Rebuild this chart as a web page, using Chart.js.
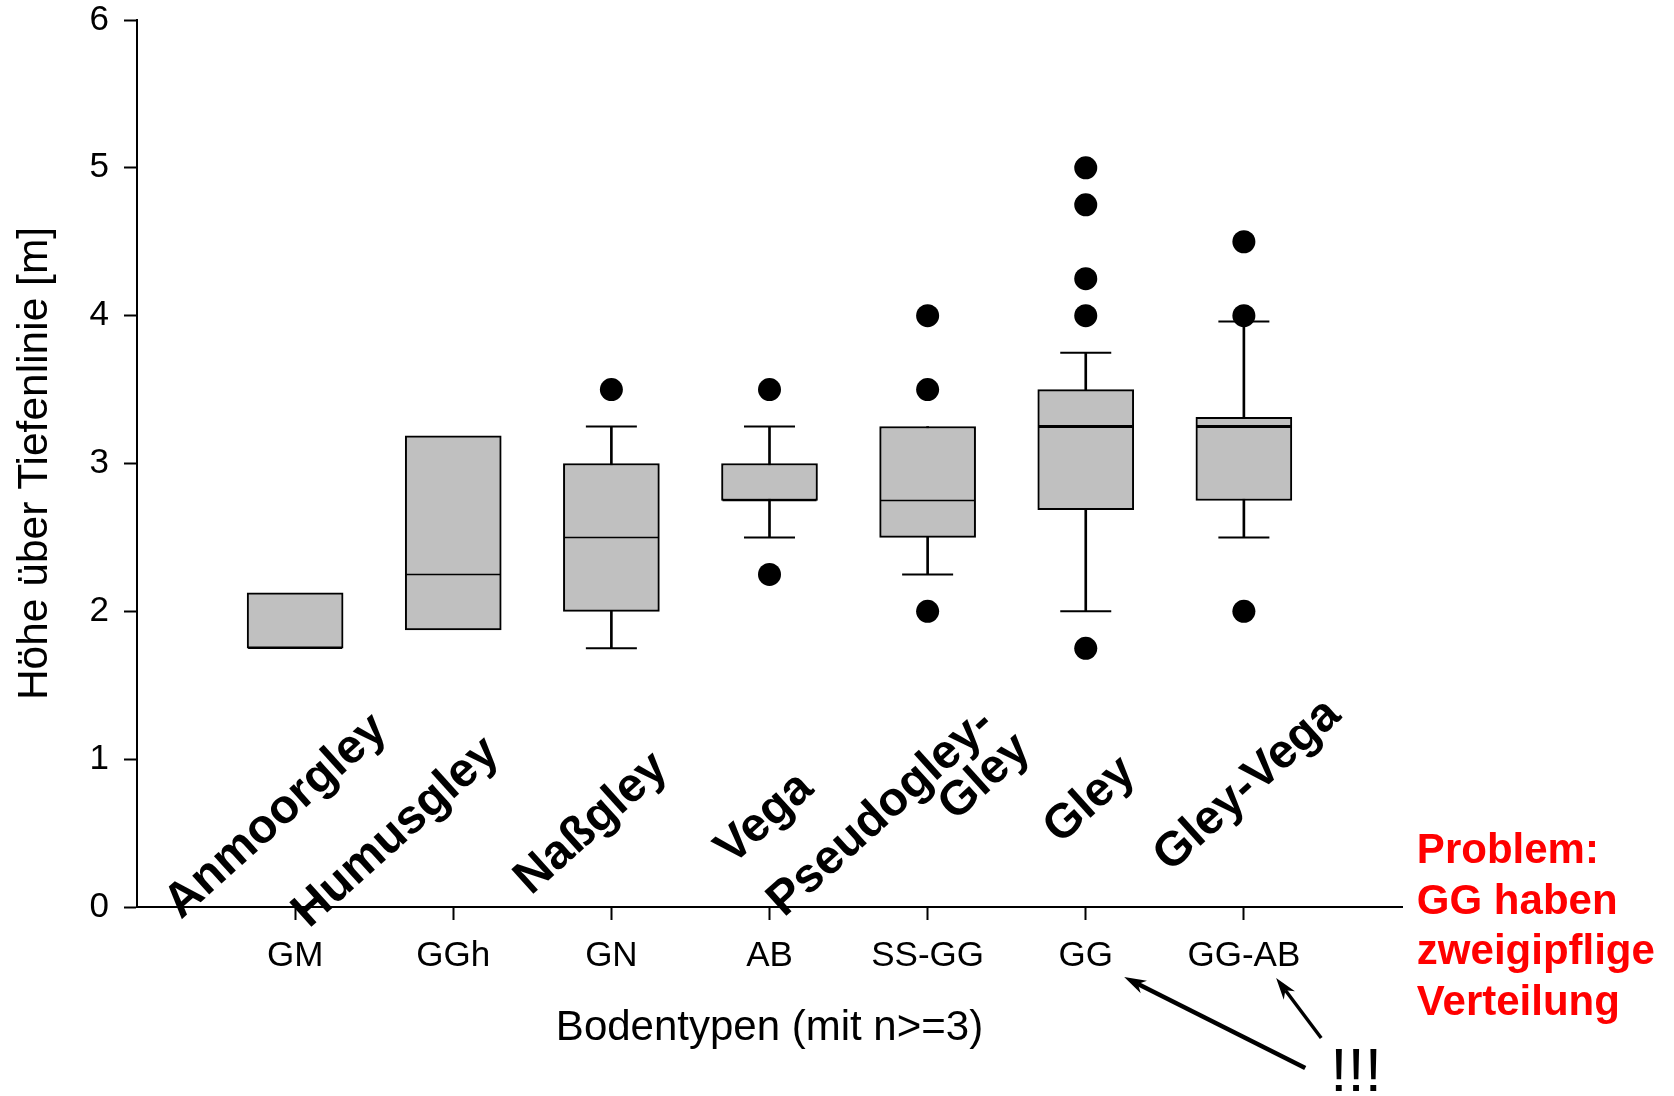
<!DOCTYPE html>
<html>
<head>
<meta charset="utf-8">
<title>Höhe über Tiefenlinie nach Bodentyp</title>
<script src="https://cdn.jsdelivr.net/npm/chart.js@4.4.1/dist/chart.umd.min.js"></script>
<style>
  html, body { margin: 0; padding: 0; background: #fff; }
  #wrap { position: relative; width: 1674px; height: 1096px; }
</style>
</head>
<body>
<div id="wrap"><canvas id="boxplot"></canvas></div>
<script>
// ---- data ----
const codes = ['GM', 'GGh', 'GN', 'AB', 'SS-GG', 'GG', 'GG-AB'];
const soilNames = [['Anmoorgley'], ['Humusgley'], ['Naßgley'], ['Vega'], ['Pseudogley-', 'Gley'], ['Gley'], ['Gley-Vega']];
const q1 = [1.75, 1.875, 2.0, 2.75, 2.5, 2.6875, 2.75];
const q3 = [2.125, 3.1875, 3.0, 3.0, 3.25, 3.5, 3.3125];
const medians = [1.75, 2.25, 2.5, 2.75, 2.75, 3.25, 3.25];
const whiskerLow = [null, null, 1.75, 2.5, 2.25, 2.0, 2.5];
const whiskerHigh = [null, null, 3.25, 3.25, null, 3.75, 3.96];
const outliers = [[], [], [3.5], [3.5, 2.25], [4.0, 3.5, 2.0], [5.0, 4.75, 4.25, 4.0, 1.75], [4.5, 4.0, 2.0]];
const yTicks = [0, 1, 2, 3, 4, 5, 6];
const noteLines = ['Problem:', 'GG haben', 'zweigipflige', 'Verteilung'];

// ---- annotation layout (axis units) ----
const nameAnchors = [
  [[0.278, -0.088]], [[1.088, -0.149]], [[2.492, 0.074]], [[3.763, 0.277]],
  [[4.092, -0.074], [5.174, 0.575]], [[5.838, 0.42]], [[6.534, 0.23]],
];
const noteAnchor = [8.094, 0.296];
const bangAnchor = [7.546, -1.245];
const arrows = [
  { from: [7.388, -1.089], to: [6.243, -0.474], width: 4.5 },
  { from: [7.489, -0.886], to: [7.204, -0.480], width: 3.5 },
];

const FONT = "'Liberation Sans', Arial, Helvetica, sans-serif";
Chart.defaults.font.family = FONT;
Chart.defaults.color = '#000';

const pos = codes.map((_, i) => i + 1);
const boxes = codes.map((_, i) => ({ x: pos[i], y: [q1[i], q3[i]] }));
const stems = codes
  .map((_, i) => ({ x: pos[i], y: [whiskerLow[i] ?? q1[i], whiskerHigh[i] ?? q3[i]], has: whiskerLow[i] != null || whiskerHigh[i] != null }))
  .filter(d => d.has);
const medianPts = codes.map((_, i) => ({ x: pos[i], y: medians[i] }));
const capPts = [];
codes.forEach((_, i) => {
  if (whiskerLow[i] != null) capPts.push({ x: pos[i], y: whiskerLow[i] });
  if (whiskerHigh[i] != null) capPts.push({ x: pos[i], y: whiskerHigh[i] });
});
const outlierPts = outliers.flatMap((vals, i) => vals.map(v => ({ x: pos[i], y: v })));

function drawArrow(ctx, x0, y0, x1, y1, width) {
  const a = Math.atan2(y1 - y0, x1 - x0);
  const head = 22, half = 7;
  const c = Math.cos(a), s = Math.sin(a);
  ctx.lineWidth = width;
  ctx.beginPath();
  ctx.moveTo(x0, y0);
  ctx.lineTo(x1 - c * head * 0.7, y1 - s * head * 0.7);
  ctx.stroke();
  ctx.beginPath();
  ctx.moveTo(x1, y1);
  ctx.lineTo(x1 - c * head + s * half, y1 - s * head - c * half);
  ctx.lineTo(x1 - c * head * 0.7, y1 - s * head * 0.7);
  ctx.lineTo(x1 - c * head - s * half, y1 - s * head + c * half);
  ctx.closePath();
  ctx.fill();
}

const annotations = {
  id: 'annotations',
  afterDraw(chart) {
    const { ctx } = chart;
    const { x, y } = chart.scales;
    ctx.save();
    ctx.fillStyle = '#000';
    ctx.strokeStyle = '#000';
    ctx.textAlign = 'left';
    ctx.textBaseline = 'alphabetic';

    // rotated soil type names
    ctx.font = `bold 48px ${FONT}`;
    soilNames.forEach((lines, i) => {
      lines.forEach((text, j) => {
        const [ax, ay] = nameAnchors[i][j];
        ctx.save();
        ctx.translate(x.getPixelForValue(ax), y.getPixelForValue(ay));
        ctx.rotate(-42 * Math.PI / 180);
        ctx.fillText(text, 0, 0);
        ctx.restore();
      });
    });

    // red note on the right
    ctx.font = `bold 42px ${FONT}`;
    ctx.fillStyle = '#ff0000';
    const nx = x.getPixelForValue(noteAnchor[0]);
    const ny = y.getPixelForValue(noteAnchor[1]);
    noteLines.forEach((t, i) => ctx.fillText(t, nx, ny + i * 50.6));

    // "!!!" with arrows
    ctx.fillStyle = '#000';
    ctx.font = `62px ${FONT}`;
    ctx.fillText('!!!', x.getPixelForValue(bangAnchor[0]), y.getPixelForValue(bangAnchor[1]));
    arrows.forEach(a => drawArrow(ctx,
      x.getPixelForValue(a.from[0]), y.getPixelForValue(a.from[1]),
      x.getPixelForValue(a.to[0]), y.getPixelForValue(a.to[1]), a.width));
    ctx.restore();
  }
};

new Chart(document.getElementById('boxplot'), {
  type: 'bar',
  data: {
    datasets: [
      {
        label: 'Whisker',
        data: stems,
        backgroundColor: '#000',
        barThickness: 2,
        grouped: false,
        order: 5,
      },
      {
        label: 'Box',
        data: boxes,
        backgroundColor: '#c0c0c0',
        borderColor: '#000',
        borderWidth: 2,
        borderSkipped: false,
        barThickness: 96,
        grouped: false,
        order: 4,
      },
      {
        type: 'scatter',
        label: 'Median',
        data: medianPts,
        pointStyle: 'line',
        pointRadius: 47,
        borderColor: '#000',
        pointBorderWidth: codes.map(c => (c === 'GG' || c === 'GG-AB') ? 3 : 1.5),
        order: 3,
      },
      {
        type: 'scatter',
        label: 'Cap',
        data: capPts,
        pointStyle: 'line',
        pointRadius: 25.5,
        borderColor: '#000',
        pointBorderWidth: 2,
        order: 2,
      },
      {
        type: 'scatter',
        label: 'Ausreißer',
        data: outlierPts,
        pointStyle: 'circle',
        pointRadius: 11.5,
        backgroundColor: '#000',
        borderColor: '#000',
        pointBorderWidth: 0,
        order: 1,
      },
    ],
  },
  options: {
    responsive: true,
    maintainAspectRatio: false,
    animation: false,
    events: [],
    layout: { autoPadding: false, padding: { left: 0, top: 20, right: 272, bottom: 0 } },
    plugins: {
      legend: { display: false },
      tooltip: { enabled: false },
    },
    scales: {
      x: {
        type: 'linear',
        min: 0,
        max: 8,
        offset: false,
        afterBuildTicks: (s) => { s.ticks = pos.map(v => ({ value: v })); },
        afterFit: (s) => { s.height = 189; s.paddingLeft = 0; s.paddingRight = 0; },
        grid: { offset: false, drawOnChartArea: false, tickLength: 13, tickWidth: 2, tickColor: '#000' },
        border: { display: true, color: '#000', width: 2 },
        ticks: {
          autoSkip: false,
          maxRotation: 0,
          padding: 15,
          font: { size: 35 },
          color: '#000',
          callback: (v) => codes[v - 1] ?? '',
        },
        title: {
          display: true,
          text: 'Bodentypen (mit n>=3)',
          font: { size: 42 },
          color: '#000',
          padding: { top: 0, bottom: 42 },
        },
      },
      y: {
        min: 0,
        max: 6,
        afterBuildTicks: (s) => { s.ticks = yTicks.map(v => ({ value: v })); },
        afterFit: (s) => { s.width = 137; s.paddingTop = 0; s.paddingBottom = 0; },
        grid: { drawOnChartArea: false, tickLength: 13, tickWidth: 2, tickColor: '#000' },
        border: { display: true, color: '#000', width: 2 },
        ticks: {
          padding: 15,
          font: { size: 35, lineHeight: 1.1 },
          color: '#000',
        },
        title: {
          display: true,
          text: 'Höhe über Tiefenlinie [m]',
          font: { size: 42.5 },
          color: '#000',
          padding: { top: 10, bottom: 0 },
        },
      },
    },
  },
  plugins: [annotations],
});
</script>
</body>
</html>
